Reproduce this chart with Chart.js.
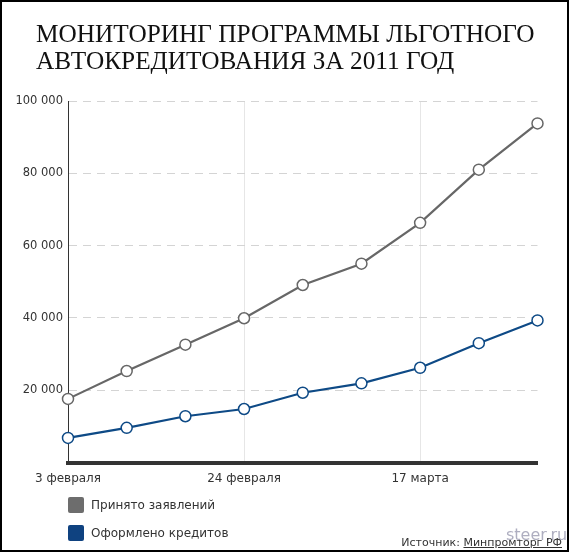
<!DOCTYPE html>
<html>
<head>
<meta charset="utf-8">
<script src="https://cdn.jsdelivr.net/npm/chart.js@4.4.1/dist/chart.umd.min.js"></script>
<style>
  html, body { margin: 0; padding: 0; background: #fff; }
  #wrap { position: relative; width: 569px; height: 552px; box-sizing: border-box; border: 2px solid #000; overflow: hidden; background: #fff; }
  #c { position: absolute; left: -2px; top: -2px; }
  #title { position: absolute; left: 34px; top: 18px; font-family: "Liberation Serif", "DejaVu Serif", serif; font-size: 25.3px; line-height: 27px; color: #111; white-space: nowrap; }
  .leg { position: absolute; left: 66px; font-family: "DejaVu Sans", Verdana, sans-serif; font-size: 12px; color: #333; white-space: nowrap; }
  .leg span.sw { display: inline-block; width: 16px; height: 16px; border-radius: 2px; vertical-align: middle; margin-right: 7px; }
  .leg span.tx { vertical-align: middle; }
  #src { position: absolute; right: 5px; top: 534px; font-family: "DejaVu Sans", Verdana, sans-serif; font-size: 11px; color: #333; white-space: nowrap; }
  #src u { text-decoration: underline; }
  #wm { position: absolute; left: 504px; top: 523px; font-family: "DejaVu Sans", Arial, sans-serif; font-size: 16px; color: rgba(120,120,150,0.6); white-space: nowrap; }
</style>
</head>
<body>
<div id="wrap">
  <canvas id="c" width="569" height="552"></canvas>
  <div id="title">МОНИТОРИНГ ПРОГРАММЫ ЛЬГОТНОГО<br>АВТОКРЕДИТОВАНИЯ ЗА 2011 ГОД</div>
  <div class="leg" style="top:495px"><span class="sw" style="background:#6d6d6d"></span><span class="tx">Принято заявлений</span></div>
  <div class="leg" style="top:523px"><span class="sw" style="background:#0f4280"></span><span class="tx">Оформлено кредитов</span></div>
  <div id="wm">steer.ru</div>
  <div id="src">Источник: <u>Минпромторг РФ</u></div>
</div>
<script>
const categories = ["3 февраля", "10 февраля", "17 февраля", "24 февраля", "3 марта", "10 марта", "17 марта", "24 марта", "31 марта"];
const tickLabels = ["3 февраля", "24 февраля", "17 марта"];
const applications = [17600, 25300, 32600, 39900, 49100, 55000, 66300, 81000, 93800];
const credits = [6800, 9600, 12800, 14800, 19300, 21900, 26200, 33000, 39300];
const yTicks = [0, 20000, 40000, 60000, 80000, 100000];

const GRAY = '#676767';
const BLUE = '#0e4a86';

function fmt(v) {
  return String(v).replace(/\B(?=(\d{3})+(?!\d))/g, ' ');
}

new Chart(document.getElementById('c'), {
  type: 'line',
  data: {
    labels: categories,
    datasets: [
      { label: 'Принято заявлений', data: applications, borderColor: GRAY, borderWidth: 2.2,
        pointRadius: 5.5, pointBorderWidth: 1.5, pointBackgroundColor: '#fff', pointBorderColor: GRAY, tension: 0 },
      { label: 'Оформлено кредитов', data: credits, borderColor: BLUE, borderWidth: 2.2,
        pointRadius: 5.5, pointBorderWidth: 1.5, pointBackgroundColor: '#fff', pointBorderColor: BLUE, tension: 0 }
    ]
  },
  options: {
    responsive: false,
    animation: false,
    devicePixelRatio: 1,
    layout: { padding: { left: 0, top: 101, right: 31.5, bottom: 0 } },
    plugins: { legend: { display: false }, tooltip: { enabled: false } },
    scales: {
      x: {
        type: 'category',
        offset: false,
        afterFit: (s) => { s.height = 89.5; },
        grid: {
          drawTicks: false,
          color: (ctx) => (ctx.index === 3 || ctx.index === 6) ? '#e6e6e6' : 'rgba(0,0,0,0)',
          lineWidth: 1
        },
        border: { display: true, color: '#333', width: 4 },
        ticks: {
          autoSkip: false, maxRotation: 0, padding: 9, color: '#333',
          font: { family: 'DejaVu Sans', size: 12 },
          callback: function(val, idx) { const l = categories[idx]; return tickLabels.includes(l) ? l : ''; }
        }
      },
      y: {
        min: 0, max: 100000,
        afterFit: (s) => { s.width = 68; },
        afterBuildTicks: (s) => { s.ticks = yTicks.map(v => ({ value: v })); },
        grid: {
          drawTicks: false,
          color: (ctx) => ctx.tick && ctx.tick.value === 0 ? 'rgba(0,0,0,0)' : '#d4d4d4',
          lineWidth: 1
        },
        border: { display: true, color: '#333', width: 1, dash: [8, 6] },
        ticks: {
          padding: 5, color: '#333',
          font: { family: 'DejaVu Sans', size: 11.5 },
          callback: (v) => v === 0 ? '' : fmt(v)
        }
      }
    }
  }
});
</script>
</body>
</html>
